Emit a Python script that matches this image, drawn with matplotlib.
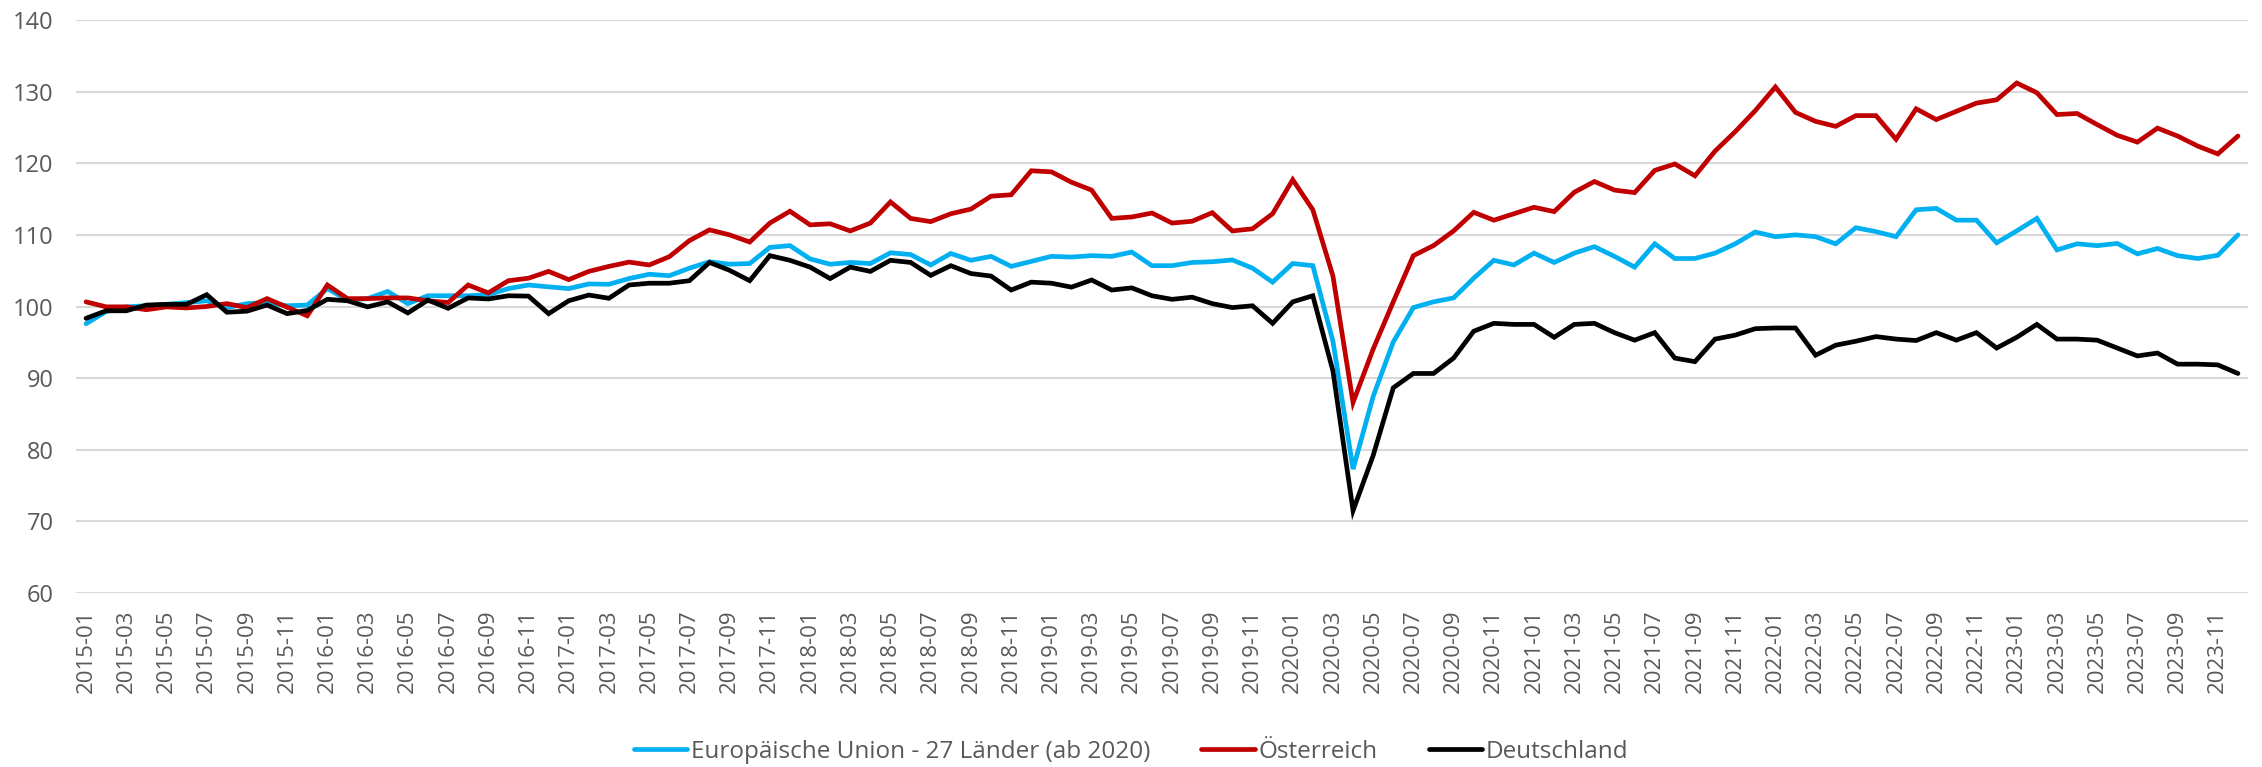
import matplotlib
matplotlib.use("Agg")
import matplotlib.pyplot as plt
import numpy as np

# monthly index values, 2015-01 .. 2023-12
months = [f"{y}-{m:02d}" for y in range(2015, 2024) for m in range(1, 13)]

eu27 = [97.6, 99.3, 99.95, 100.1, 100.3, 100.55, 100.8, 99.85, 100.4, 100.55, 100.1, 100.2,
        102.5, 100.9, 101.1, 102.1, 100.4, 101.5, 101.5, 101.5, 101.65, 102.5, 103.0, 102.75,
        102.5, 103.15, 103.1, 103.9, 104.5, 104.3, 105.35, 106.25, 105.9, 106.0, 108.25, 108.5,
        106.65, 105.9, 106.15, 106.0, 107.5, 107.25, 105.8, 107.4, 106.45, 107.0, 105.6, 106.3,
        107.0, 106.9, 107.1, 107.0, 107.6, 105.7, 105.7, 106.15, 106.25, 106.5, 105.35, 103.4,
        106.0, 105.7, 95.15, 77.3, 87.45, 95.05, 99.85, 100.65, 101.2, 103.95, 106.45, 105.8,
        107.45, 106.15, 107.45, 108.35, 107.0, 105.5, 108.75, 106.7, 106.7, 107.45, 108.75, 110.4,
        109.75, 110.0, 109.75, 108.75, 111.0, 110.45, 109.75, 113.5, 113.7, 112.05, 112.05, 108.9,
        110.55, 112.3, 107.9, 108.75, 108.5, 108.8, 107.35, 108.1, 107.1, 106.7, 107.15, 110.0]

oesterreich = [100.65, 99.95, 99.95, 99.55, 99.95, 99.8, 100.0, 100.4, 99.85, 101.1, 99.9, 98.7,
               103.0, 101.1, 101.1, 101.2, 101.2, 100.8, 100.55, 103.0, 101.9, 103.6, 103.95, 104.9,
               103.75, 104.9, 105.6, 106.2, 105.8, 106.95, 109.2, 110.7, 110.0, 109.0, 111.65, 113.3,
               111.4, 111.55, 110.55, 111.65, 114.6, 112.3, 111.85, 112.95, 113.6, 115.4, 115.6, 118.95,
               118.8, 117.35, 116.25, 112.3, 112.5, 113.05, 111.65, 111.9, 113.1, 110.55, 110.85, 112.95,
               117.7, 113.5, 104.25, 86.6, 94.05, 100.65, 107.1, 108.5, 110.55, 113.15, 112.05, 112.95,
               113.85, 113.25, 115.95, 117.45, 116.25, 115.9, 119.0, 119.9, 118.25, 121.7, 124.4, 127.35,
               130.65, 127.1, 125.85, 125.15, 126.65, 126.65, 123.35, 127.6, 126.1, 127.25, 128.4, 128.85,
               131.2, 129.85, 126.8, 126.95, 125.4, 123.9, 122.95, 124.9, 123.8, 122.4, 121.3, 123.8]

deutschland = [98.35, 99.4, 99.4, 100.2, 100.3, 100.3, 101.65, 99.2, 99.35, 100.2, 99.0, 99.45,
               101.0, 100.8, 99.95, 100.65, 99.1, 100.9, 99.75, 101.2, 101.05, 101.5, 101.45, 99.0,
               100.8, 101.6, 101.15, 103.0, 103.25, 103.25, 103.6, 106.15, 105.05, 103.6, 107.1, 106.45,
               105.5, 103.9, 105.5, 104.9, 106.45, 106.15, 104.35, 105.7, 104.6, 104.25, 102.3, 103.4,
               103.25, 102.7, 103.7, 102.3, 102.6, 101.5, 101.0, 101.3, 100.4, 99.85, 100.1, 97.65,
               100.65, 101.5, 91.0, 71.5, 79.2, 88.65, 90.65, 90.65, 92.8, 96.55, 97.65, 97.5,
               97.5, 95.7, 97.5, 97.65, 96.35, 95.3, 96.35, 92.8, 92.3, 95.45, 96.0, 96.9,
               97.0, 97.0, 93.2, 94.6, 95.15, 95.8, 95.45, 95.25, 96.35, 95.3, 96.35, 94.2,
               95.7, 97.5, 95.45, 95.45, 95.3, 94.2, 93.1, 93.5, 91.95, 91.95, 91.85, 90.65]

labels = ["Europäische Union - 27 Länder (ab 2020)", "Österreich", "Deutschland"]
colors = ["#00B0F0", "#C00000", "#000000"]

plt.rcParams['font.family'] = ['Open Sans', 'DejaVu Sans']
txt = "#595959"

fig = plt.figure(figsize=(22.62, 7.67), dpi=100)
ax = fig.add_axes([76 / 2262, 1 - 593 / 767, (2248 - 76) / 2262, (593 - 20) / 767])

x = np.arange(len(months))
for series, lab, col in zip([eu27, oesterreich, deutschland], labels, colors):
    ax.plot(x, series, color=col, linewidth=3.4, label=lab, solid_joinstyle="miter",
            solid_capstyle="round")

ax.set_xlim(-0.5, len(months) - 0.5)
ax.set_ylim(60, 140)
ax.set_yticks(range(60, 141, 10))
ax.set_xticks(x[::2])
ax.set_xticklabels(months[::2], rotation=90)
ax.tick_params(axis="both", length=0, labelcolor=txt)
ax.tick_params(axis="x", labelsize=16, pad=12)
ax.tick_params(axis="y", labelsize=17, pad=16)
ax.grid(axis="y", color="#D9D9D9", linewidth=1.5)
ax.set_axisbelow(True)
for s in ax.spines.values():
    s.set_visible(False)

leg = fig.legend(loc="center", bbox_to_anchor=(0.5, 1 - 752 / 767), ncol=3, frameon=False,
                 fontsize=17.5, handlelength=2.2, handletextpad=0.15, columnspacing=2.1)
for t in leg.get_texts():
    t.set_color(txt)

fig.savefig("out.png", dpi=100)
